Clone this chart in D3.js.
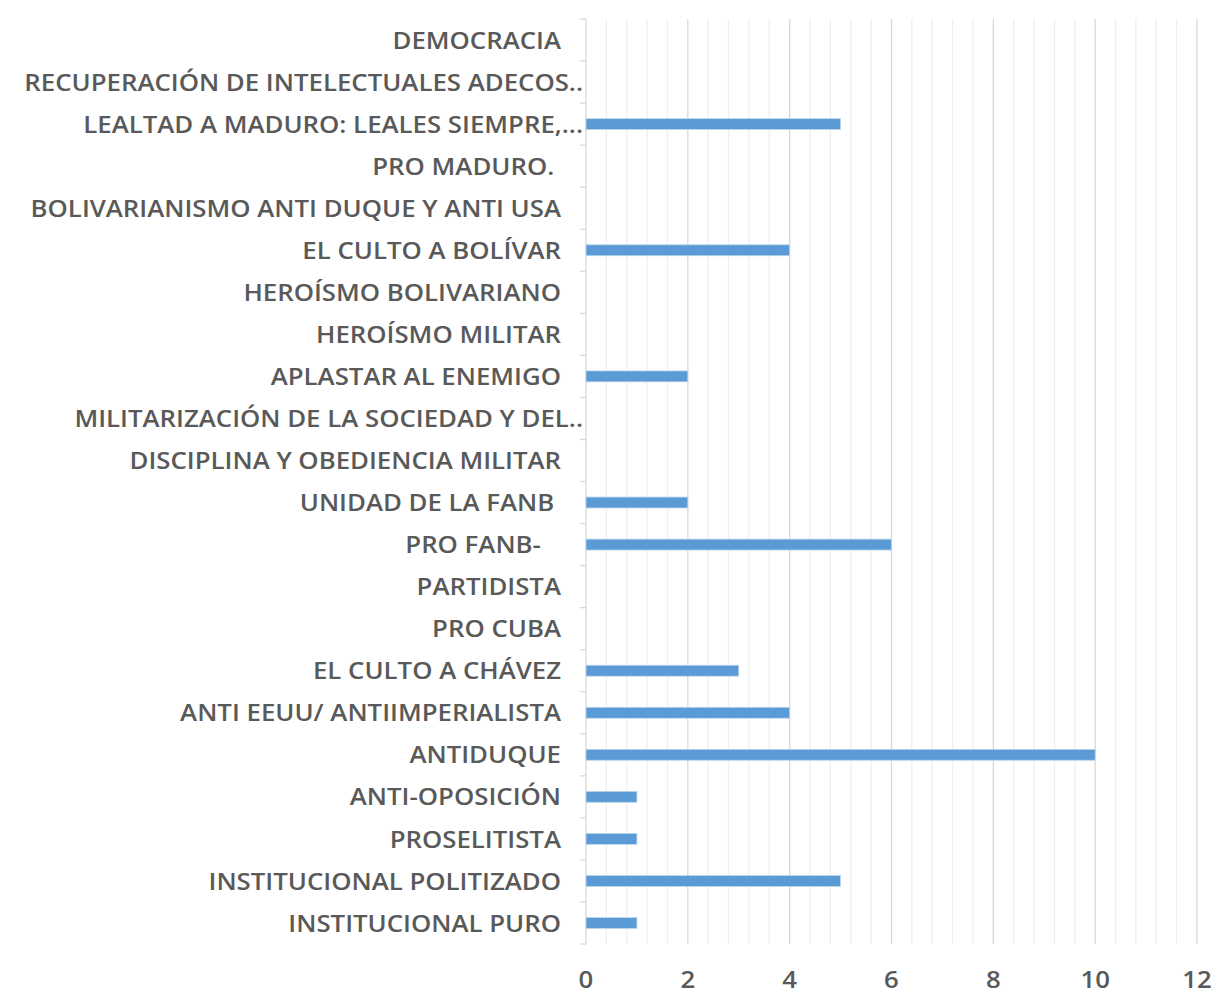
<!DOCTYPE html>
<html>
<head>
<meta charset="utf-8">
<script src="https://cdn.jsdelivr.net/npm/d3@7"></script>
<style>
  body { margin: 0; background: #fff; }
  text { font-family: "Open Sans", Lato, sans-serif; fill: #595959; }
</style>
</head>
<body>
<svg id="chart" width="1229" height="994"></svg>
<script>
// categories from top to bottom, as in the picture (trailing spaces kept on purpose)
const categories = [
	"DEMOCRACIA",
	"RECUPERACIÓN DE INTELECTUALES ADECOS..",
	"LEALTAD A MADURO: LEALES SIEMPRE,...",
	"PRO MADURO. ",
	"BOLIVARIANISMO ANTI DUQUE Y ANTI USA",
	"EL CULTO A BOLÍVAR",
	"HEROÍSMO BOLIVARIANO",
	"HEROÍSMO MILITAR",
	"APLASTAR AL ENEMIGO",
	"MILITARIZACIÓN DE LA SOCIEDAD Y DEL..",
	"DISCIPLINA Y OBEDIENCIA MILITAR",
	"UNIDAD DE LA FANB ",
	"PRO FANB-   ",
	"PARTIDISTA",
	"PRO CUBA",
	"EL CULTO A CHÁVEZ",
	"ANTI EEUU/ ANTIIMPERIALISTA",
	"ANTIDUQUE",
	"ANTI-OPOSICIÓN",
	"PROSELITISTA",
	"INSTITUCIONAL POLITIZADO",
	"INSTITUCIONAL PURO"
];
const values = [0, 0, 5, 0, 0, 4, 0, 0, 2, 0, 0, 2, 6, 0, 0, 3, 4, 10, 1, 1, 5, 1];
const xTicks = [0, 2, 4, 6, 8, 10, 12];

const svg = d3.select("#chart");
const margin = { left: 586, right: 32, top: 19, bottom: 50 };
const width = +svg.attr("width"), height = +svg.attr("height");

const x = d3.scaleLinear().domain([0, 12]).range([margin.left, width - margin.right]);
const y = d3.scaleBand().domain(categories).range([margin.top, height - margin.bottom]).paddingInner(0.74).paddingOuter(0.37);

// minor gridlines every 0.4
const minor = d3.range(0, 12.001, 0.4).filter(v => Math.abs(v / 2 - Math.round(v / 2)) > 0.01);
svg.append("g").selectAll("line").data(minor).enter().append("line")
	.attr("x1", d => x(d)).attr("x2", d => x(d))
	.attr("y1", margin.top).attr("y2", height - margin.bottom)
	.attr("stroke", "#efefef").attr("stroke-width", 1.3);

// major gridlines
svg.append("g").selectAll("line").data(xTicks.slice(1)).enter().append("line")
	.attr("x1", d => x(d)).attr("x2", d => x(d))
	.attr("y1", margin.top).attr("y2", height - margin.bottom)
	.attr("stroke", "#d9d9d9").attr("stroke-width", 1.3);

// y axis line + ticks at band boundaries
const step = y.step();
svg.append("line")
	.attr("x1", x(0)).attr("x2", x(0))
	.attr("y1", margin.top).attr("y2", height - margin.bottom)
	.attr("stroke", "#d9d9d9").attr("stroke-width", 1.3);
svg.append("g").selectAll("line").data(d3.range(categories.length + 1)).enter().append("line")
	.attr("x1", x(0) - 6).attr("x2", x(0))
	.attr("y1", i => margin.top + i * step).attr("y2", i => margin.top + i * step)
	.attr("stroke", "#d9d9d9").attr("stroke-width", 1.3);

// bars
svg.append("g").selectAll("rect").data(categories).enter().append("rect")
	.attr("x", x(0))
	.attr("y", d => y(d))
	.attr("width", (d, i) => x(values[i]) - x(0))
	.attr("height", y.bandwidth())
	.attr("fill", "#5b9bd5")
	.attr("stroke", "#bdd7ee").attr("stroke-width", 0.8)
	.style("display", (d, i) => values[i] > 0 ? null : "none");

// category labels (slightly stretched, like the original's wide font)
const stretch = 1.075;
svg.append("g").selectAll("text").data(categories).enter().append("text")
	.attr("transform", d => `translate(${d.endsWith("..") ? x(0) - 3 : x(0) - 25},${y(d) + y.bandwidth() / 2}) scale(${stretch},1)`)
	.attr("dy", "0.36em")
	.attr("text-anchor", "end")
	.style("white-space", "pre")
	.style("font-size", "24px")
	.style("font-weight", "600")
	.text(d => d);

// x tick labels
svg.append("g").selectAll("text").data(xTicks).enter().append("text")
	.attr("transform", d => `translate(${x(d)},979) scale(${stretch},1)`)
	.attr("dy", "0.36em")
	.attr("text-anchor", "middle")
	.style("font-size", "24px")
	.style("font-weight", "600")
	.text(d => d);
</script>
</body>
</html>
